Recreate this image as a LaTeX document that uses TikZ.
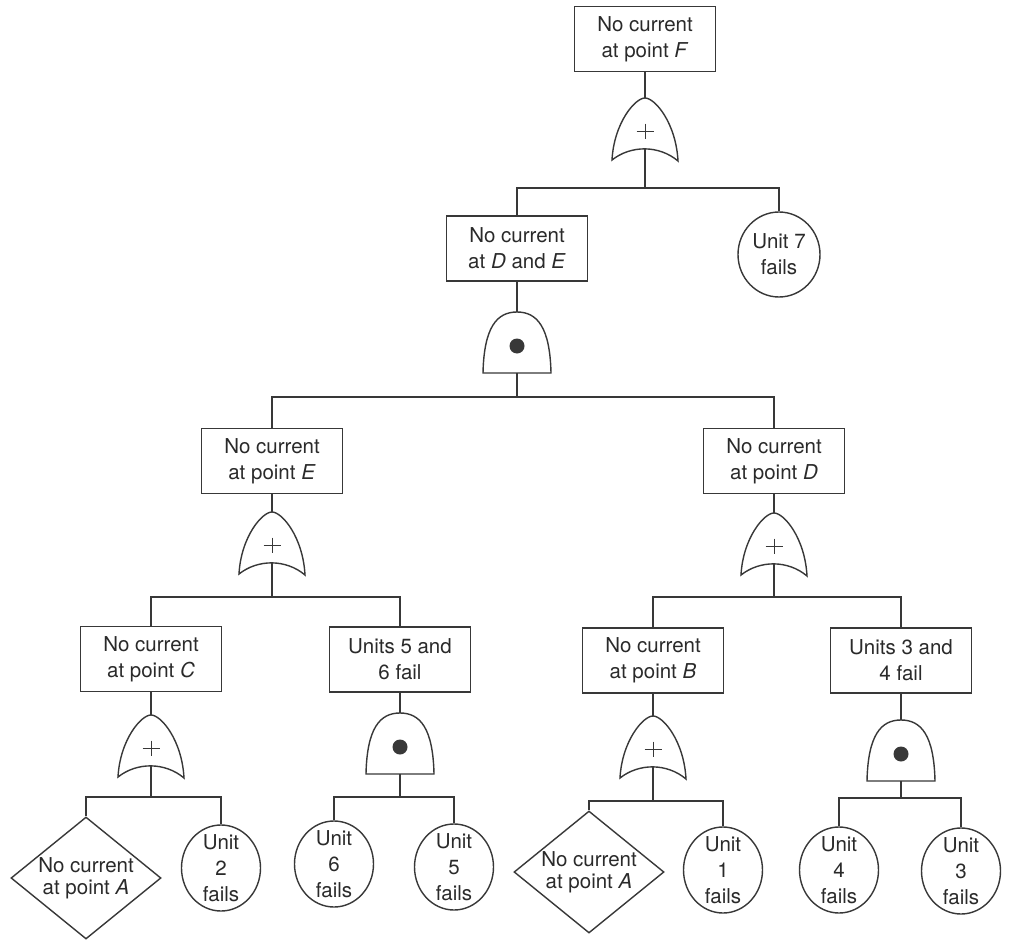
\documentclass[tikz,border=0pt]{standalone}
\usepackage{fontspec}
\setmainfont{TeX Gyre Heros}
\usetikzlibrary{shapes.geometric}
\definecolor{ink}{HTML}{383838}
\definecolor{txt}{HTML}{2A2A2A}
\tikzset{
  conn/.style={draw=ink, line width=1.4pt},
  event/.style={draw=ink, line width=1.4pt, rectangle, minimum width=141pt, minimum height=65pt,
    inner sep=0pt, align=center, text=txt, font=\fontsize{20.5}{26}\selectfont},
  basic/.style={draw=ink, line width=1.4pt, ellipse, minimum width=79pt, minimum height=86pt, inner sep=0pt},
  basictext/.style={align=center, text=txt, font=\fontsize{20.5}{26}\selectfont, inner sep=0pt},
  undev/.style={draw=ink, line width=1.4pt, diamond, shape aspect=1.25, minimum width=150pt,
    minimum height=122pt, inner sep=0pt, align=center, text=txt, font=\fontsize{20.5}{22}\selectfont},
  orgate/.pic={
    \draw[conn, fill=white] (-33,62) .. controls (-31,25) and (-10,0) .. (0,0)
      .. controls (10,0) and (31,25) .. (33,63)
      .. controls (14,47) and (-14,47) .. (-33,62) -- cycle;
    \draw[draw=ink, line width=0.8pt] (-8.5,33) -- (8.5,33) (0,25.5) -- (0,40.5);
    \coordinate (-in) at (0,0);
    \coordinate (-out) at (0,51);
  },
  andgate/.pic={
    \draw[conn, fill=white] (-34,61) .. controls (-33,15) and (-20,0) .. (0,0)
      .. controls (20,0) and (33,15) .. (34,61) -- cycle;
    \fill[ink] (0,34) circle[radius=7.5pt];
    \coordinate (-in) at (0,0);
    \coordinate (-out) at (0,61);
  }
}
\begin{document}
\begin{tikzpicture}[x=1pt, y=-1pt]
\fill[white] (0,0) rectangle (1010,942);
\useasboundingbox (0,0) rectangle (1010,942);

% level 0
\node[event] (F) at (645,39) {No current\\at point \textit{F}};
\pic (g1) at (645,98) {orgate};
\coordinate (b1) at (645,188);

% level 1
\node[event] (DE) at (517,248.5) {No current\\at \textit{D} and \textit{E}};
\node[basic, minimum width=82pt, minimum height=85pt, label={[basictext]center:Unit 7\\fails}] (U7) at (779,254.5) {};
\pic (g2) at (517,312) {andgate};
\coordinate (b2) at (517,397);

% level 2
\node[event] (E) at (272,461) {No current\\at point \textit{E}};
\node[event] (D) at (774,461) {No current\\at point \textit{D}};
\pic (g3) at (272,512) {orgate};
\pic (g4) at (774,513) {orgate};
\coordinate (b3) at (272,597);
\coordinate (b4) at (774,597);

% level 3
\node[event] (C) at (151,659) {No current\\at point \textit{C}};
\node[event] (S56) at (400,659.5) {Units 5 and\\6 fail};
\node[event] (B) at (653,660.5) {No current\\at point \textit{B}};
\node[event] (S34) at (901,660.5) {Units 3 and\\4 fail};
\pic (g5) at (151,715) {orgate};
\pic (g6) at (400,713) {andgate};
\pic (g7) at (653,716) {orgate};
\pic (g8) at (901,720) {andgate};
\coordinate (b5) at (151,797);
\coordinate (b6) at (400,797);
\coordinate (b7) at (653,801);
\coordinate (b8) at (901,798);

% leaves
\node[undev] (A1) at (86,878) {No current\\at point \textit{A}};
\node[basic, label={[basictext]center:Unit\\2\\fails}] (U2) at (221,868) {};
\node[basic, label={[basictext]center:Unit\\6\\fails}] (U6) at (334,864) {};
\node[basic, label={[basictext]center:Unit\\5\\fails}] (U5) at (454,867) {};
\node[undev] (A2) at (589,872) {No current\\at point \textit{A}};
\node[basic, label={[basictext]center:Unit\\1\\fails}] (U1) at (723,870) {};
\node[basic, label={[basictext]center:Unit\\4\\fails}] (U4) at (839,870) {};
\node[basic, label={[basictext]center:Unit\\3\\fails}] (U3) at (961,871) {};

% connectors
\draw[conn] (F.south) -- (g1-in);
\draw[conn] (g1-out) -- (b1);
\draw[conn] (DE.north) |- (b1) -| (U7.north);

\draw[conn] (DE.south) -- (g2-in);
\draw[conn] (g2-out) -- (b2);
\draw[conn] (E.north) |- (b2) -| (D.north);

\draw[conn] (E.south) -- (g3-in);
\draw[conn] (g3-out) -- (b3);
\draw[conn] (C.north) |- (b3) -| (S56.north);

\draw[conn] (D.south) -- (g4-in);
\draw[conn] (g4-out) -- (b4);
\draw[conn] (B.north) |- (b4) -| (S34.north);

\draw[conn] (C.south) -- (g5-in);
\draw[conn] (g5-out) -- (b5);
\draw[conn] (A1.north) |- (b5) -| (U2.north);

\draw[conn] (S56.south) -- (g6-in);
\draw[conn] (g6-out) -- (b6);
\draw[conn] (U6.north) |- (b6) -| (U5.north);

\draw[conn] (B.south) -- (g7-in);
\draw[conn] (g7-out) -- (b7);
\draw[conn] (A2.north) |- (b7) -| (U1.north);

\draw[conn] (S34.south) -- (g8-in);
\draw[conn] (g8-out) -- (b8);
\draw[conn] (U4.north) |- (b8) -| (U3.north);
\end{tikzpicture}
\end{document}
